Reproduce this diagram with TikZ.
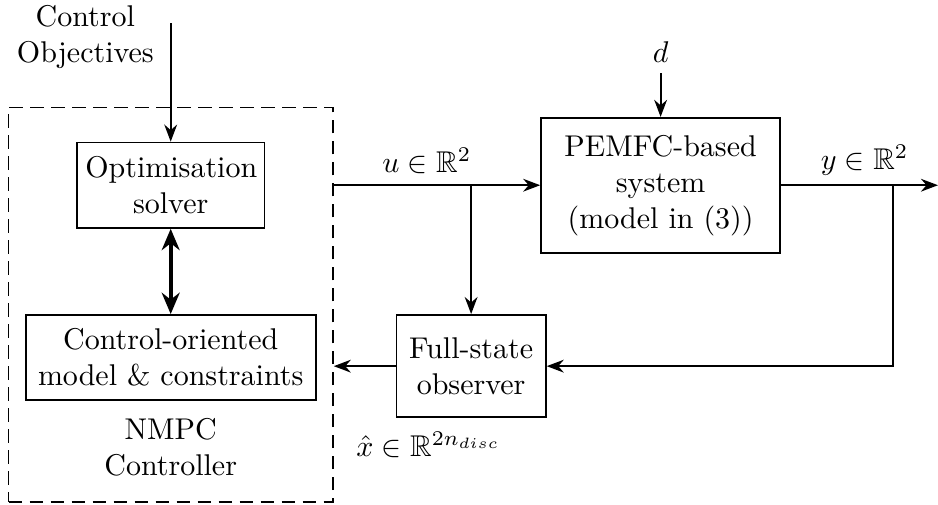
\documentclass[tikz,border=0pt]{standalone}
\usepackage{amssymb}
\usetikzlibrary{positioning,arrows.meta}

\begin{document}
\begin{tikzpicture}[
    semithick,
    box/.style={draw, align=center, minimum height=10mm, inner sep=1mm},
    flow/.style={-{Stealth[length=2mm, width=1.5mm]}},
    swap/.style={{Stealth[length=2.5mm, width=2.1mm]}-{Stealth[length=2.5mm, width=2.1mm]}, line width=1.4pt},
  ]
  \useasboundingbox (0,0) rectangle (10.99,-5.905);

  % Column x-positions and main row y-position
  \def\xctrl{2.0}  \def\xplant{7.74}  \def\yfwd{-2.17}

  % NMPC controller (dashed frame and its two inner blocks)
  \node[draw, dash pattern=on 4.5pt off 2.5pt, minimum width=3.80cm, minimum height=4.62cm] (ctrl) at (\xctrl,-3.57) {};
  \node[box, text width=20mm] (opt) at (\xctrl,\yfwd) {Optimisation\\ solver};
  \node[box, text width=32mm] (cmod) at (\xctrl,-4.19) {Control-oriented\\ model \& constraints};
  \node[align=center] (nmpc) at (\xctrl,-5.24) {NMPC\\ Controller};
  \node[align=center] (obj) at (1.0,-0.43) {Control\\ Objectives};

  % Plant and observer
  \node[box, text width=26mm, minimum height=15.8mm] (pem) at (\xplant,\yfwd) {PEMFC-based\\ system\\ (model in (3))};
  \node[box, text width=15.5mm, minimum height=12mm] (obs) at (5.52,-4.29) {Full-state\\ observer};
  \node (dist) at (\xplant,-0.61) {$d$};

  % Branch points and free ends
  \coordinate (ub) at (obs |- pem);
  \coordinate (yb) at (10.46,\yfwd);
  \coordinate (yout) at (10.99,\yfwd);
  \coordinate (objin) at (\xctrl,-0.27);

  % Signal labels
  \node (ulab) at (5.0,-1.88) {$u \in \mathbb{R}^2$};
  \node (ylab) at (10.13,-1.88) {$y \in \mathbb{R}^2$};
  \node (xlab) at (5.02,-5.21) {$\hat{x} \in \mathbb{R}^{2n_{disc}}$};

  % Connections
  \draw[flow] (objin) -- (opt);
  \draw[swap] (opt) -- (cmod);
  \draw[flow] (ctrl.east |- pem) -- (pem);
  \draw[flow] (ub) -- (obs);
  \draw[flow] (dist) -- (pem);
  \draw[flow] (pem) -- (yout);
  \draw[flow] (yb) |- (obs);
  \draw[flow] (obs) -- (ctrl.east |- obs);

\end{tikzpicture}
\end{document}
